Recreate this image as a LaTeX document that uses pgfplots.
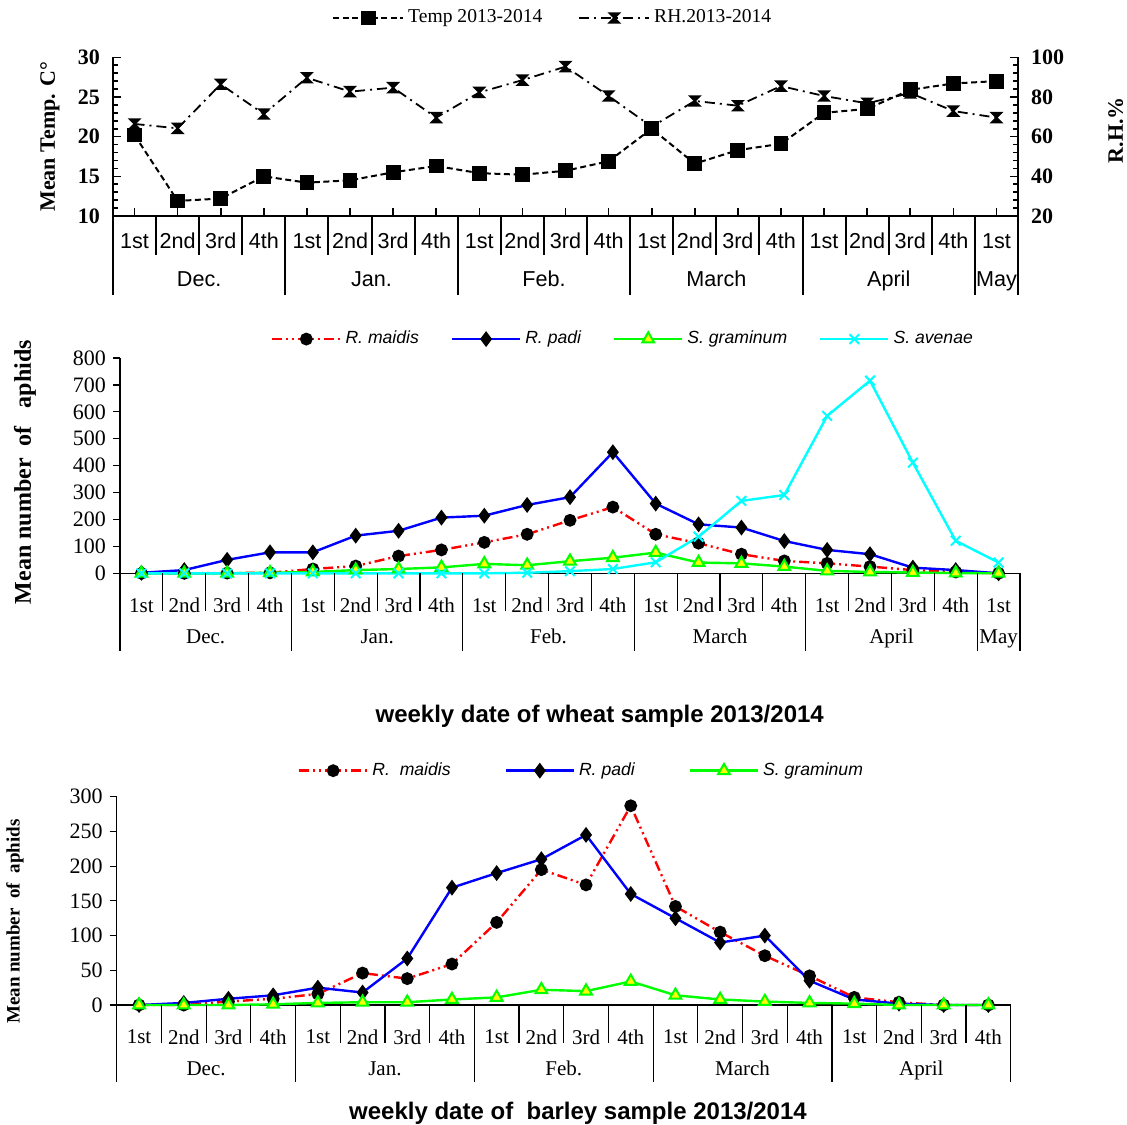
\documentclass[border=0pt]{standalone}
\usepackage{fontspec}
\setmainfont{Liberation Serif}
\newfontfamily\arial{Liberation Sans}
\usepackage{pgfplots}
\pgfplotsset{compat=1.18}

\definecolor{cred}{HTML}{FF0000}
\definecolor{cblue}{HTML}{0000FF}
\definecolor{cgreen}{HTML}{00FF00}
\definecolor{ccyan}{HTML}{00FFFF}
\definecolor{cyell}{HTML}{FFFF00}

% hourglass marker used for RH
\pgfdeclareplotmark{hourglass}{%
  \pgfpathmoveto{\pgfqpoint{-\pgfplotmarksize}{\pgfplotmarksize}}%
  \pgfpathlineto{\pgfqpoint{\pgfplotmarksize}{\pgfplotmarksize}}%
  \pgfpathlineto{\pgfqpoint{-\pgfplotmarksize}{-\pgfplotmarksize}}%
  \pgfpathlineto{\pgfqpoint{\pgfplotmarksize}{-\pgfplotmarksize}}%
  \pgfpathclose
  \pgfusepathqfillstroke}

\tikzset{monthlab/.style={text height=1.55ex, text depth=0.3ex}}

\pgfplotsset{
  tempstyle/.style={black, line width=1pt, dash pattern=on 3pt off 1.8pt,
    mark=square*, mark size=3.2pt, mark options={solid}},
  rhstyle/.style={black, line width=0.9pt, dash pattern=on 5pt off 2.5pt on 1pt off 2.5pt,
    mark=hourglass, mark size=2.4pt, mark options={solid}},
  maidis/.style={cred, line width=1.2pt, dash pattern=on 5pt off 2pt on 1pt off 2pt on 1pt off 2pt,
    mark=*, mark size=2.6pt, mark options={solid, fill=black, draw=black}},
  padi/.style={cblue, line width=1.2pt, mark=diamond*, mark size=3pt,
    mark options={fill=black, draw=black}},
  graminum/.style={cgreen, line width=1.2pt, mark=triangle*, mark size=3.4pt,
    mark options={fill=cyell, draw=cgreen, line width=1pt}},
  avenae/.style={ccyan, line width=1.2pt, mark=x, mark size=3.4pt,
    mark options={ccyan, line width=1pt}},
}

\begin{document}
\begin{tikzpicture}
\useasboundingbox (0,0) rectangle (563.5pt,-562pt);

%% ---------- panel 1: temperature and RH ----------
\begin{axis}[
  at={(56.5pt,-108pt)}, anchor=south west,
  scale only axis, width=452.5pt, height=79.35pt,
  clip=false,
  xmin=-0.5, xmax=20.5, ymin=10, ymax=30,
  axis x line*=bottom, axis y line*=left,
  axis line style={line width=1pt, -},
  xtick={0,...,20},
  xticklabels={1st,2nd,3rd,4th,1st,2nd,3rd,4th,1st,2nd,3rd,4th,1st,2nd,3rd,4th,1st,2nd,3rd,4th,1st},
  xticklabel style={anchor=center, yshift=-12.5pt, font=\arial\fontsize{10.8}{12}\selectfont},
  ytick={10,15,...,30}, minor y tick num=4,
  yticklabel style={font=\bfseries\fontsize{11}{12}\selectfont, xshift=-3pt},
  /pgf/number format/assume math mode=true,
  tick align=inside, major tick length=4pt, minor tick length=2.5pt,
  every tick/.style={black, line width=0.8pt},
  ylabel={Mean Temp. C°},
  ylabel style={at={(axis description cs:-0.0696,0.5)}, anchor=center,
    font=\bfseries\fontsize{11}{12}\selectfont},
]
\addplot[tempstyle] coordinates {
  (0,20.2) (1,11.9) (2,12.2) (3,15.0) (4,14.2) (5,14.5) (6,15.5) (7,16.3)
  (8,15.4) (9,15.2) (10,15.7) (11,16.9) (12,21.0) (13,16.6) (14,18.3) (15,19.1)
  (16,23.0) (17,23.5) (18,25.9) (19,26.7) (20,27.0)};
\pgfplotsinvokeforeach{0.5,1.5,2.5,4.5,5.5,6.5,8.5,9.5,10.5,12.5,13.5,14.5,16.5,17.5,18.5}{
  \draw[line width=1pt] (axis cs:#1,10) -- ++(0pt,-19.5pt);}
\pgfplotsinvokeforeach{-0.5,3.5,7.5,11.5,15.5,19.5,20.5}{
  \draw[line width=1pt] (axis cs:#1,10) -- ++(0pt,-39.5pt);}
\begin{scope}[font=\arial\fontsize{10.8}{12}\selectfont]
\node[monthlab] at ([yshift=-32.5pt]axis cs:1.5,10) {Dec.};
\node[monthlab] at ([yshift=-32.5pt]axis cs:5.5,10) {Jan.};
\node[monthlab] at ([yshift=-32.5pt]axis cs:9.5,10) {Feb.};
\node[monthlab] at ([yshift=-32.5pt]axis cs:13.5,10) {March};
\node[monthlab] at ([yshift=-32.5pt]axis cs:17.5,10) {April};
\node[monthlab] at ([yshift=-32.5pt]axis cs:20,10) {May};
\end{scope}
\end{axis}

\begin{axis}[
  at={(56.5pt,-108pt)}, anchor=south west,
  scale only axis, width=452.5pt, height=79.35pt,
  clip=false,
  xmin=-0.5, xmax=20.5, ymin=20, ymax=100,
  axis x line=none, axis y line*=right,
  axis line style={line width=1pt, -},
  ytick={20,40,...,100}, minor y tick num=4,
  yticklabel style={font=\bfseries\fontsize{11}{12}\selectfont, xshift=3pt},
  /pgf/number format/assume math mode=true,
  tick align=inside, major tick length=4pt, minor tick length=2.5pt,
  every tick/.style={black, line width=0.8pt},
  ylabel={R.H.\%},
  ylabel style={at={(axis description cs:1.108,0.54)}, anchor=center, rotate=0,
    font=\bfseries\fontsize{11}{12}\selectfont},
  legend columns=2,
  legend style={at={(axis description cs:0.487,1.248)}, anchor=center,
    draw=none, fill=none, font=\fontsize{9.8}{11}\selectfont,
    /tikz/every even column/.append style={column sep=16pt}},
  legend image code/.code={\draw[mark repeat=2,mark phase=2,#1]
    plot coordinates {(0pt,0pt) (17.5pt,0pt) (35pt,0pt)};},
]
\addlegendimage{tempstyle}
\addlegendentry{Temp 2013-2014}
\addplot[rhstyle] coordinates {
  (0,66.4) (1,64.2) (2,86.4) (3,71.4) (4,89.7) (5,82.7) (6,84.7) (7,69.6)
  (8,82.3) (9,88.5) (10,95.3) (11,80.5) (12,65.0) (13,78.0) (14,75.6) (15,85.5)
  (16,80.5) (17,76.8) (18,82.0) (19,72.9) (20,69.6)};
\addlegendentry{RH.2013-2014}
\end{axis}

%% ---------- panel 2: wheat ----------
\begin{axis}[
  at={(60pt,-286.65pt)}, anchor=south west,
  scale only axis, width=450pt, height=107.65pt,
  clip=false,
  xmin=-0.5, xmax=20.5, ymin=0, ymax=800,
  axis x line*=bottom, axis y line*=left,
  axis line style={line width=0.6pt, -},
  xtick={0,...,20}, xtick style={draw=none},
  xticklabels={1st,2nd,3rd,4th,1st,2nd,3rd,4th,1st,2nd,3rd,4th,1st,2nd,3rd,4th,1st,2nd,3rd,4th,1st},
  xticklabel style={anchor=center, yshift=-12.5pt, font=\fontsize{10.5}{12}\selectfont},
  ytick={0,100,...,800},
  ytick style={black, line width=0.6pt},
  yticklabel style={font=\fontsize{11}{12}\selectfont},
  /pgf/number format/assume math mode=true,
  tick align=outside, major tick length=3.5pt,
  ylabel={Mean number\ \ of\ \ \ aphids},
  ylabel style={at={(axis description cs:-0.1056,0.47)}, anchor=center,
    font=\bfseries\fontsize{12}{13}\selectfont},
  xlabel={weekly date of wheat sample 2013/2014},
  xlabel style={at={(axis description cs:0.533,-0.664)}, anchor=center,
    font=\arial\bfseries\fontsize{12}{14}\selectfont},
  legend columns=4,
  legend style={at={(axis description cs:0.56,1.088)}, anchor=center,
    draw=none, fill=none, font=\arial\itshape\fontsize{8.8}{10}\selectfont,
    /tikz/every even column/.append style={column sep=14pt}},
  legend image code/.code={\draw[mark repeat=2,mark phase=2,#1]
    plot coordinates {(0pt,0pt) (17pt,0pt) (34pt,0pt)};},
]
\addplot[maidis] coordinates {
  (0,0) (1,0) (2,1) (3,2) (4,16) (5,27) (6,64) (7,87) (8,115) (9,145) (10,197)
  (11,246) (12,145) (13,112) (14,71) (15,46) (16,37) (17,25) (18,12) (19,5) (20,0)};
\addlegendentry{R. maidis}
\addplot[padi] coordinates {
  (0,2) (1,12) (2,50) (3,78) (4,78) (5,140) (6,158) (7,207) (8,214) (9,254) (10,283)
  (11,450) (12,259) (13,182) (14,170) (15,120) (16,87) (17,71) (18,21) (19,12) (20,0)};
\addlegendentry{R. padi}
\addplot[graminum] coordinates {
  (0,0) (1,0) (2,0) (3,2) (4,5) (5,12) (6,16) (7,22) (8,35) (9,30) (10,45)
  (11,58) (12,77) (13,40) (14,37) (15,25) (16,9) (17,5) (18,3) (19,1) (20,0)};
\addlegendentry{S. graminum}
\addplot[avenae] coordinates {
  (0,0) (1,0) (2,0) (3,0) (4,0) (5,0) (6,0) (7,0) (8,0) (9,2) (10,8)
  (11,16) (12,41) (13,136) (14,269) (15,291) (16,585) (17,716) (18,411) (19,121) (20,40)};
\addlegendentry{S. avenae}
\pgfplotsinvokeforeach{0.5,1.5,2.5,4.5,5.5,6.5,8.5,9.5,10.5,12.5,13.5,14.5,16.5,17.5,18.5}{
  \draw[line width=0.6pt] (axis cs:#1,0) -- ++(0pt,-19pt);}
\pgfplotsinvokeforeach{-0.5,3.5,7.5,11.5,15.5,19.5,20.5}{
  \draw[line width=0.6pt] (axis cs:#1,0) -- ++(0pt,-39pt);}
\begin{scope}[font=\fontsize{10.5}{12}\selectfont]
\node[monthlab] at ([yshift=-32pt]axis cs:1.5,0) {Dec.};
\node[monthlab] at ([yshift=-32pt]axis cs:5.5,0) {Jan.};
\node[monthlab] at ([yshift=-32pt]axis cs:9.5,0) {Feb.};
\node[monthlab] at ([yshift=-32pt]axis cs:13.5,0) {March};
\node[monthlab] at ([yshift=-32pt]axis cs:17.5,0) {April};
\node[monthlab] at ([yshift=-32pt]axis cs:20,0) {May};
\end{scope}
\end{axis}

%% ---------- panel 3: barley ----------
\begin{axis}[
  at={(58.35pt,-502.5pt)}, anchor=south west,
  scale only axis, width=447pt, height=104.15pt,
  clip=false,
  xmin=-0.5, xmax=19.5, ymin=0, ymax=300,
  axis x line*=bottom, axis y line*=left,
  axis line style={line width=0.6pt, -},
  xtick={0,...,19}, xtick style={draw=none},
  xticklabels={1st,2nd,3rd,4th,1st,2nd,3rd,4th,1st,2nd,3rd,4th,1st,2nd,3rd,4th,1st,2nd,3rd,4th},
  xticklabel style={anchor=center, yshift=-12.5pt, font=\fontsize{10.5}{12}\selectfont},
  ytick={0,50,...,300},
  ytick style={black, line width=0.6pt},
  yticklabel style={font=\fontsize{11}{12}\selectfont},
  /pgf/number format/assume math mode=true,
  tick align=outside, major tick length=3.5pt,
  ylabel={Mean number\ \ of\ \ aphids},
  ylabel style={at={(axis description cs:-0.1138,0.40)}, anchor=center,
    font=\bfseries\fontsize{9.5}{11}\selectfont},
  xlabel={weekly date of\ \ barley sample 2013/2014},
  xlabel style={at={(axis description cs:0.516,-0.522)}, anchor=center,
    font=\arial\bfseries\fontsize{12}{14}\selectfont},
  legend columns=3,
  legend style={at={(axis description cs:0.521,1.125)}, anchor=center,
    draw=none, fill=none, font=\arial\itshape\fontsize{8.8}{10}\selectfont,
    /tikz/every even column/.append style={column sep=25pt}},
  legend image code/.code={\draw[mark repeat=2,mark phase=2,#1]
    plot coordinates {(0pt,0pt) (17pt,0pt) (34pt,0pt)};},
]
\addplot[maidis] coordinates {
  (0,0) (1,0) (2,5) (3,9) (4,16) (5,46) (6,38) (7,59) (8,119) (9,195)
  (10,173) (11,287) (12,142) (13,105) (14,71) (15,42) (16,11) (17,4) (18,0) (19,0)};
\addlegendentry{R.\ \ maidis}
\addplot[padi] coordinates {
  (0,0) (1,3) (2,9) (3,14) (4,25) (5,18) (6,67) (7,169) (8,190) (9,210)
  (10,245) (11,160) (12,125) (13,90) (14,100) (15,35) (16,8) (17,2) (18,0) (19,0)};
\addlegendentry{R. padi}
\addplot[graminum] coordinates {
  (0,0) (1,0) (2,0) (3,1) (4,3) (5,4) (6,4) (7,8) (8,11) (9,22)
  (10,20) (11,34) (12,14) (13,8) (14,5) (15,3) (16,2) (17,0) (18,0) (19,0)};
\addlegendentry{S. graminum}
\pgfplotsinvokeforeach{0.5,1.5,2.5,4.5,5.5,6.5,8.5,9.5,10.5,12.5,13.5,14.5,16.5,17.5,18.5}{
  \draw[line width=0.6pt] (axis cs:#1,0) -- ++(0pt,-19pt);}
\pgfplotsinvokeforeach{-0.5,3.5,7.5,11.5,15.5,19.5}{
  \draw[line width=0.6pt] (axis cs:#1,0) -- ++(0pt,-38.5pt);}
\begin{scope}[font=\fontsize{10.5}{12}\selectfont]
\node[monthlab] at ([yshift=-32.5pt]axis cs:1.5,0) {Dec.};
\node[monthlab] at ([yshift=-32.5pt]axis cs:5.5,0) {Jan.};
\node[monthlab] at ([yshift=-32.5pt]axis cs:9.5,0) {Feb.};
\node[monthlab] at ([yshift=-32.5pt]axis cs:13.5,0) {March};
\node[monthlab] at ([yshift=-32.5pt]axis cs:17.5,0) {April};
\end{scope}
\end{axis}
\end{tikzpicture}
\end{document}
